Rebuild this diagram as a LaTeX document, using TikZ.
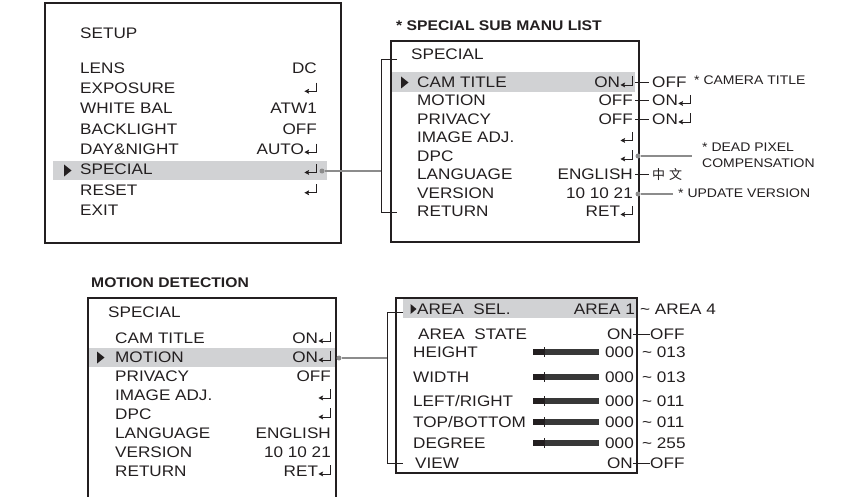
\documentclass[tikz,border=0pt]{standalone}
\usepackage{fontspec}
\setmainfont{Liberation Sans}[FakeStretch=1.12]
\newfontfamily\cjkfont{Noto Sans CJK SC}
\usepackage{xcolor}
\usetikzlibrary{arrows.meta}

\definecolor{ink}{HTML}{231F20}
\definecolor{barfill}{HTML}{D1D2D4}
\definecolor{linkgray}{HTML}{8C8C8C}

% return key glyph
\newcommand{\entkey}{\tikz[baseline=0pt]{\draw[ink, line width=0.9pt,
  -{Stealth[length=4.6pt,width=4.8pt,inset=0.8pt]}] (0.8em,0.72em) -- (0.8em,0.16em) -- (0.02em,0.16em);}}

\begin{document}
\begin{tikzpicture}[
  x=1pt, y=-1pt,
  menu/.style={font=\fontsize{15.3}{18}\selectfont, text=ink, inner sep=0pt},
  note/.style={font=\fontsize{12.5}{16}\selectfont, text=ink, inner sep=0pt, align=left},
  title/.style={font=\bfseries\fontsize{14}{17}\selectfont, text=ink, inner sep=0pt},
  frame/.style={draw=ink, line width=1.3pt},
  bracket/.style={draw=ink, line width=1pt},
  tick/.style={draw=ink, line width=0.8pt},
  dot/.style={circle, fill=linkgray, inner sep=0pt, minimum size=5pt},
  link/.style={draw=linkgray, line width=1.2pt}
]
  \useasboundingbox (0,0) rectangle (866,497);

  % SETUP menu
  \draw[frame, line width=2pt] (45,3) rectangle (341,243);
  \fill[barfill] (53,161) rectangle (327,180);
  \fill[ink] (64,164.5) -- (71.5,170.5) -- (64,176.5) -- cycle;
  \node[menu, anchor=base west] (setup) at (80,38.5) {SETUP};
  \foreach \lab/\val [count=\i from 0] in {LENS/DC, EXPOSURE/\entkey, {WHITE BAL}/ATW1,
      BACKLIGHT/OFF, DAY\&NIGHT/AUTO\entkey, SPECIAL/\entkey, RESET/\entkey, EXIT/{}} {
    \node[menu, anchor=base west] (setup-l\i) at (80,73.4+20.3*\i) {\lab};
    \node[menu, anchor=base east] (setup-v\i) at (317,73.4+20.3*\i) {\val};
  }
  \node[dot] (special-dot) at (322,171) {};
  \coordinate (sub-in) at (381,171);
  \draw[link] (special-dot) -- (sub-in);

  % special sub menu
  \node[title, anchor=west] (sub-title) at (396,26) {* SPECIAL SUB MANU LIST};
  \draw[frame] (391,41) rectangle (639,242);
  \fill[barfill] (392,72) rectangle (635,92);
  \fill[ink] (401,76.5) -- (408.5,82.5) -- (401,88.5) -- cycle;
  \node[menu, anchor=base west] (sub-head) at (411,59.4) {SPECIAL};
  \foreach \lab/\val [count=\i from 0] in {{CAM TITLE}/ON\entkey, MOTION/OFF, PRIVACY/OFF,
      {IMAGE ADJ.}/\entkey, DPC/\entkey, LANGUAGE/ENGLISH, VERSION/{10 10 21}, RETURN/RET\entkey} {
    \node[menu, anchor=base west] (sub-l\i) at (417,87.4+18.5*\i) {\lab};
    \node[menu, anchor=base east] (sub-v\i) at (633,87.4+18.5*\i) {\val};
  }
  \draw[bracket] (397,60) -- (381,60) -- (381,212) -- (397,212);

  % options beside the sub menu
  \draw[tick] (635,82) -- (649,82);
  \node[menu, anchor=base west] (cam-opt) at (652,87.4) {OFF};
  \node[note, anchor=west] (cam-note) at (694,80) {* CAMERA TITLE};
  \draw[tick] (635,100.5) -- (649,100.5);
  \node[menu, anchor=base west] (motion-opt) at (652,105.9) {ON\entkey};
  \draw[tick] (635,119) -- (649,119);
  \node[menu, anchor=base west] (privacy-opt) at (652,124.4) {ON\entkey};
  \node[dot] (dpc-dot) at (638,156) {};
  \coordinate (dpc-end) at (692,156);
  \draw[link] (dpc-dot) -- (dpc-end);
  \node[note, anchor=west] (dpc-note) at (702,155) {* DEAD PIXEL\\COMPENSATION};
  \draw[tick] (635,174.5) -- (649,174.5);
  \node[anchor=base west, inner sep=0pt, text=ink,
    font=\cjkfont\fontsize{13}{15}\selectfont] (lang-opt) at (652,179.5) {中\hspace{4pt}文};
  \node[dot] (ver-dot) at (638,194) {};
  \coordinate (ver-end) at (673,194);
  \draw[link] (ver-dot) -- (ver-end);
  \node[note, anchor=west] (ver-note) at (678,193) {* UPDATE VERSION};

  % motion detection
  \node[title, anchor=west] (motion-title) at (91,283) {MOTION DETECTION};
  \draw[frame] (88,497) -- (88,298) -- (336,298) -- (336,497);
  \fill[barfill] (89,348) rectangle (335,367);
  \fill[ink] (97,351.5) -- (104.5,357.5) -- (97,363.5) -- cycle;
  \node[menu, anchor=base west] (md-head) at (108,317.4) {SPECIAL};
  \foreach \lab/\val [count=\i from 0] in {{CAM TITLE}/ON\entkey, MOTION/ON\entkey, PRIVACY/OFF,
      {IMAGE ADJ.}/\entkey, DPC/\entkey, LANGUAGE/ENGLISH, VERSION/{10 10 21}, RETURN/RET\entkey} {
    \node[menu, anchor=base west] (md-l\i) at (115,343.4+19*\i) {\lab};
    \node[menu, anchor=base east] (md-v\i) at (331,343.4+19*\i) {\val};
  }
  \node[dot] (motion-dot) at (339,358) {};
  \coordinate (area-in) at (387,358);
  \draw[link] (motion-dot) -- (area-in);

  % area menu
  \draw[frame] (396,298) rectangle (637,473);
  \fill[barfill] (403,299) rectangle (636,318);
  \fill[ink] (410.5,304) -- (416.5,309) -- (410.5,314) -- cycle;
  \draw[bracket] (403,312) -- (387,312) -- (387,463) -- (403,463);
  \node[menu, anchor=base west] (area-sel) at (417,314.4) {AREA\ \ SEL.};
  \node[menu, anchor=base east] (area-val) at (635,314.4) {AREA 1};
  \node[menu, anchor=base west] (area-range) at (640,314.4) {\textasciitilde\ AREA 4};
  \node[menu, anchor=base west] (state-l) at (418,339.4) {AREA\ \ STATE};
  \node[menu, anchor=base east] (state-on) at (633,339.4) {ON};
  \node[menu, anchor=base west] (state-off) at (650,339.4) {OFF};
  \draw[tick] (state-on.east |- 0,334) -- (state-off.west |- 0,334);
  \foreach \lab/\ry/\hi [count=\i] in {HEIGHT/352/013, WIDTH/377/013, {LEFT/RIGHT}/401/011,
      {TOP/BOTTOM}/422/011, DEGREE/443/255} {
    \node[menu, anchor=base west] (size-l\i) at (413,\ry+5.4) {\lab};
    \fill[black!78] (544,\ry-2.6) rectangle (599,\ry+2.6);
    \fill[ink] (533,\ry-2.8) rectangle (544,\ry+2.8);
    \draw[ink, line width=1pt] (544,\ry-5) -- (544,\ry+5);
    \node[menu, anchor=base east] (size-lo\i) at (634,\ry+5.4) {000};
    \node[menu, anchor=base west] (size-hi\i) at (642,\ry+5.4) {\textasciitilde\ \hi};
  }
  \node[menu, anchor=base west] (view-l) at (415,468.4) {VIEW};
  \node[menu, anchor=base east] (view-on) at (633,468.4) {ON};
  \node[menu, anchor=base west] (view-off) at (650,468.4) {OFF};
  \draw[tick] (view-on.east |- 0,463) -- (view-off.west |- 0,463);
\end{tikzpicture}
\end{document}
